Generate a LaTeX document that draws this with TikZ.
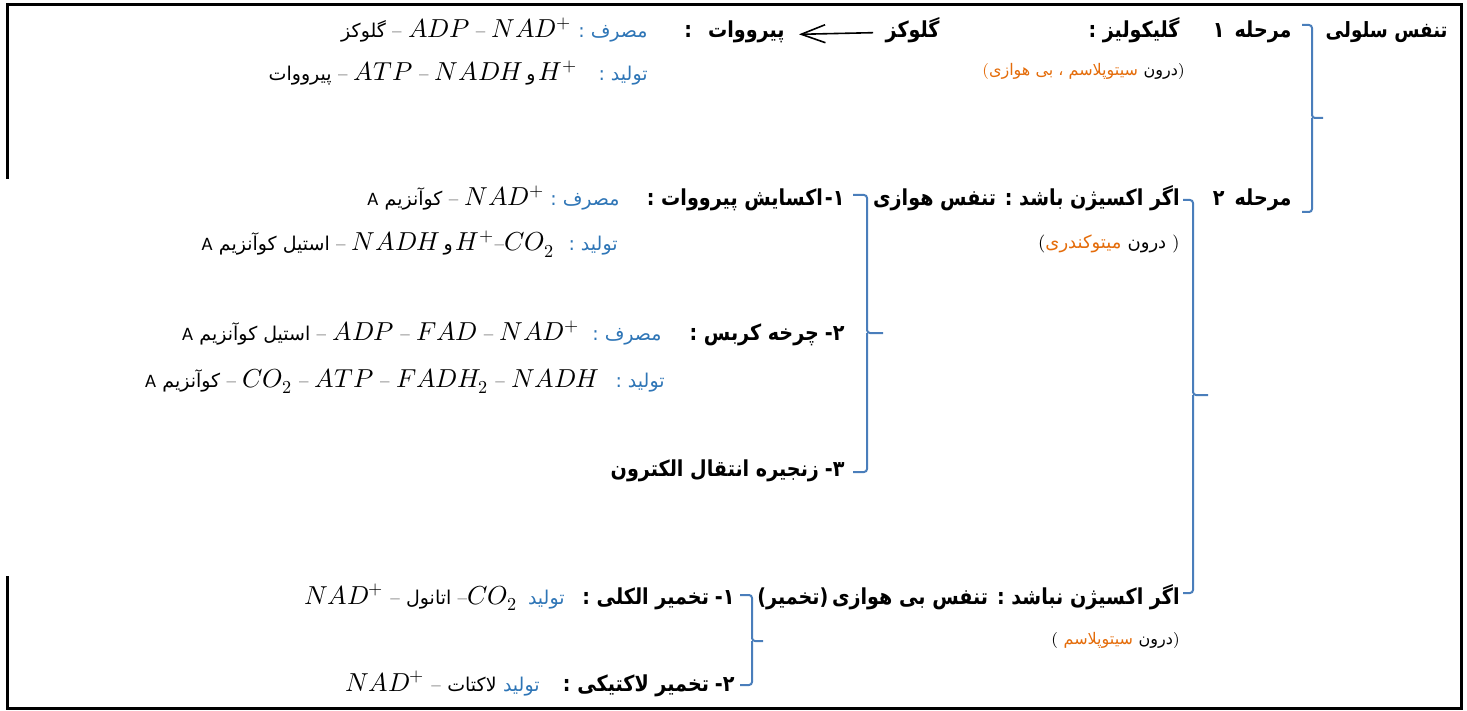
\documentclass[tikz,border=0pt]{standalone}
\usepackage{fontspec}
\usepackage{unicode-math}
\setmathfont{Latin Modern Math}
\usetikzlibrary{arrows.meta,calc}
\TeXXeTstate=1
\newfontfamily\arf[Script=Arabic, BoldFeatures={FakeStretch=0.87}]{DejaVu Sans}
\newfontfamily\dvs[BoldFeatures={FakeStretch=0.87}]{DejaVu Sans}
\newfontfamily\cfont{Carlito}
\definecolor{brk}{RGB}{74,126,187}
\definecolor{lblue}{RGB}{46,117,182}
\definecolor{orng}{RGB}{228,108,10}
\newcommand\artxt[1]{{\arf\beginR #1\endR}}
\newcommand\arbld[1]{{\arf\bfseries\beginR #1\endR}}
\newcommand\dg[1]{{\dvs\bfseries #1}}
\tikzset{
  hd/.style={font=\fontsize{11}{13}\selectfont, inner sep=0pt, anchor=base east},
  lbl/.style={font=\fontsize{9.5}{11}\selectfont, text=lblue, inner sep=0pt, anchor=base east},
  cnt/.style={font=\fontsize{9.5}{11}\selectfont, inner sep=0pt, anchor=base east},
  par/.style={font=\fontsize{8}{10}\selectfont, inner sep=0pt, anchor=base east},
  brace/.style={draw=brk, line width=1pt, rounded corners=1.5pt},
  frame/.style={line width=1.5pt, line cap=rect},
}
\newcommand\mth[1]{{\fontsize{13}{15}\selectfont$#1$}}
\begin{document}
\begin{tikzpicture}[x=0.5pt,y=-0.5pt]
\useasboundingbox (0,0) rectangle (1467,711);
% frame
\draw[frame] (7,178) -- (7,5) -- (1461,5) -- (1461,708) -- (7,708) -- (7,577);

% right column
\node[hd, font=\fontsize{10.5}{13}\selectfont] (resp) at (1448,38) {\arbld{تنفس سلولی}};
\node[hd] (st1) at (1292,38) {\dg{۱}\hspace{5pt}\arbld{مرحله}};
\node[hd] (st2) at (1292,206) {\dg{۲}\hspace{5pt}\arbld{مرحله}};

% stage 1
\node[hd] (gly) at (1180,38) {\arbld{گلیکولیز :}};
\node[par] (glyp) at (1185,76) {\textcolor{orng}{(}\textcolor{orng}{\artxt{سیتوپلاسم ، بی هوازی}} \artxt{درون})};
\node[hd] (glc) at (940,38) {\arbld{گلوکز}};
\node[hd] (pyr) at (785,38) {\arbld{:}\hspace{8pt}\arbld{پیرووات}};
\draw[line width=0.8pt, -{Straight Barb[length=12pt,width=9pt,line width=0.8pt]}] ($(glc.west)+(-12,2)$) coordinate (arS) -- ($(pyr.east)+(14,2)$) coordinate (arE);
\node[lbl] (use1) at (648,38) {\artxt{مصرف :}};
\node[cnt] (c1) at (572,38) {\artxt{گلوکز} – \mth{ADP} – \mth{NAD^{+}}};
\node[lbl] (prd1) at (648,81) {\artxt{تولید :}};
\node[cnt] (c2) at (578,81) {\artxt{پیرووات} – \mth{ATP} – \mth{NADH}\,\artxt{و}\,\mth{H^{+}}};

% aerobic
\node[hd] (aer) at (1180,206) {\arbld{اگر اکسیژن باشد : تنفس هوازی}};
\node[par, font=\fontsize{9}{11}\selectfont] (aerp) at (1180,249) {(\textcolor{orng}{\artxt{میتوکندری}}\ \artxt{درون}\ )};
\node[hd] (ox) at (845,206) {\arbld{اکسایش پیرووات :}\kern1pt\dg{-}\kern0pt\dg{۱}};
\node[lbl] (use2) at (620,206) {\artxt{مصرف :}};
\node[cnt] (c3) at (545,206) {{\cfont A} \artxt{کوآنزیم} – \mth{NAD^{+}}};
\node[lbl] (prd2) at (618,251) {\artxt{تولید :}};
\node[cnt] (c4) at (555,251) {{\cfont A} \artxt{استیل کوآنزیم} – \mth{NADH}\,\artxt{و}\,\mth{H^{+}}–\mth{CO_2}};
\node[hd] (krb) at (845,341) {\arbld{چرخه کربس :}\kern3pt\dg{-}\kern0pt\dg{۲}};
\node[lbl] (use3) at (662,341) {\artxt{مصرف :}};
\node[cnt] (c5) at (580,341) {{\cfont A} \artxt{استیل کوآنزیم} – \mth{ADP} – \mth{FAD}\ – \mth{NAD^{+}}};
\node[lbl] (prd3) at (665,387) {\artxt{تولید :}};
\node[cnt] (c6) at (600,387) {{\cfont A} \artxt{کوآنزیم} – \mth{CO_2} – \mth{ATP} – \mth{FADH_2} – \mth{NADH}};
\node[hd] (etc) at (845,476) {\arbld{زنجیره انتقال الکترون}\kern3pt\dg{-}\kern0pt\dg{۳}};

% anaerobic
\node[hd] (ana) at (1180,604) {\dg{(}\arbld{تخمیر}\dg{)}\,\arbld{اگر اکسیژن نباشد : تنفس بی هوازی}};
\node[par] (anap) at (1180,644) {(\ \textcolor{orng}{\artxt{سیتوپلاسم}}\ \artxt{درون})};
\node[hd] (alc) at (735,604) {\arbld{تخمیر الکلی :}\kern3pt\dg{-}\kern0pt\dg{۱}};
\node[lbl] (prd4) at (565,604) {\artxt{تولید}};
\node[cnt] (c8) at (518,604) {\mth{NAD^{+}} – \artxt{اتانول} –\mth{CO_2}};
\node[hd] (lac) at (735,691) {\arbld{تخمیر لاکتیکی :}\kern3pt\dg{-}\kern0pt\dg{۲}};
\node[lbl] (prd5) at (540,691) {\artxt{تولید}};
\node[cnt] (c9) at (497,691) {\mth{NAD^{+}} – \artxt{لاکتات}};

% braces
\coordinate (b1t) at (1302,25); \coordinate (b1m) at (1323,118); \coordinate (b1b) at (1302,212);
\draw[brace] (b1t) -| (1312,118) -- (b1m);
\draw[brace] (1312,118) |- (b1b);
\coordinate (b2t) at (1183,200); \coordinate (b2m) at (1208,395); \coordinate (b2b) at (1183,593);
\draw[brace] (b2t) -| (1193,395) -- (b2m);
\draw[brace] (1193,395) |- (b2b);
\coordinate (b3t) at (853,195); \coordinate (b3m) at (883,333); \coordinate (b3b) at (853,472);
\draw[brace] (b3t) -| (867,333) -- (b3m);
\draw[brace] (867,333) |- (b3b);
\coordinate (b4t) at (740,595); \coordinate (b4m) at (763,641); \coordinate (b4b) at (740,685);
\draw[brace] (b4t) -| (752,641) -- (b4m);
\draw[brace] (752,641) |- (b4b);
\end{tikzpicture}
\end{document}
